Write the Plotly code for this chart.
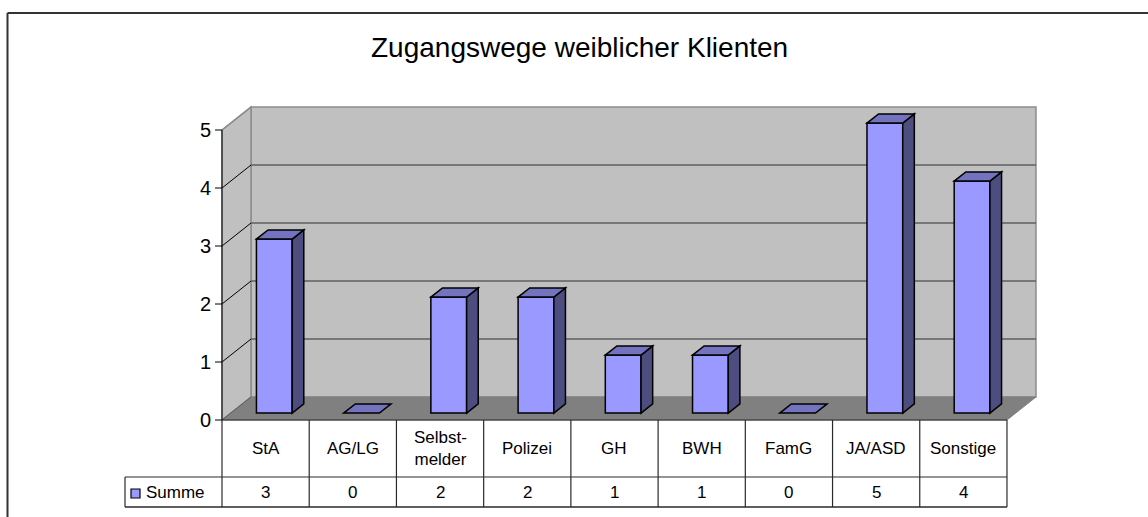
import plotly.graph_objects as go

# data
TITLE = "Zugangswege weiblicher Klienten"
CATEGORIES = ["StA", "AG/LG", "Selbst-<br>melder", "Polizei", "GH", "BWH", "FamG", "JA/ASD", "Sonstige"]
VALUES = [3, 0, 2, 2, 1, 1, 0, 5, 4]
SERIES_NAME = "Summe"
Y_TICKS = [0, 1, 2, 3, 4, 5]

# look
COLORS = {
    "front": "#9999FF",
    "side": "#4D4D80",
    "top": "#7373BF",
    "wall": "#C0C0C0",
    "floor": "#808080",
    "grid": "#5F5F5F",
    "edge": "#8C8C8C",
    "text": "#000000",
    "table": "#2A2A2A",
}
FONT = "Arial, Liberation Sans, sans-serif"

W, H = 1148, 517
PX_X0, COL_W = 222, 87.22      # pixel of category 0 left edge, width of one category
PX_Y0, UNIT_H = 420, 58        # pixel of value 0, height of one unit
DX, DY = 29 / COL_W, 23 / UNIT_H   # depth offset of back wall in data units
Z_FRONT, Z_BACK = 0.3, 0.7      # bar depth position
BAR_W = 0.41
HEAD_H = 57 / UNIT_H
ROW_H = 30 / UNIT_H
LEG_X = (125 - PX_X0) / COL_W

n = len(CATEGORIES)
ymax = max(Y_TICKS)


def path(pts):
    return "M " + " L ".join(f"{x:.4f},{y:.4f}" for x, y in pts) + " Z"


shapes = []


def poly(pts, fill, line_color, width=1.0):
    shapes.append(dict(type="path", xref="x", yref="y", path=path(pts),
                       fillcolor=fill, line=dict(color=line_color, width=width), layer="above"))


def seg(x0, y0, x1, y1, color, width=1.0):
    shapes.append(dict(type="line", xref="x", yref="y", x0=x0, y0=y0, x1=x1, y1=y1,
                       line=dict(color=color, width=width), layer="above"))


# walls and floor
poly([(DX, DY), (n + DX, DY), (n + DX, ymax + DY), (DX, ymax + DY)], COLORS["wall"], COLORS["edge"], 1.5)
poly([(0, 0), (DX, DY), (DX, ymax + DY), (0, ymax)], COLORS["wall"], COLORS["edge"], 1.5)
poly([(0, 0), (n, 0), (n + DX, DY), (DX, DY)], COLORS["floor"], COLORS["floor"], 1)

# gridlines
for k in Y_TICKS[1:-1]:
    seg(DX, k + DY, n + DX, k + DY, COLORS["grid"], 1.6)
    seg(0, k, DX, k + DY, "#000000", 1)
seg(0, ymax, DX, ymax + DY, COLORS["edge"], 1.5)
seg(0, 0, DX, DY, COLORS["grid"], 1)

# value axis
seg(0, 0, 0, ymax, "#000000", 1)
for k in Y_TICKS:
    seg(-7 / COL_W, k, 0, k, "#000000", 1)

# bars
for i, v in enumerate(VALUES):
    xl = i + 0.5 - BAR_W / 2 + Z_FRONT * DX
    xr = xl + BAR_W
    yb = Z_FRONT * DY
    ox, oy = (Z_BACK - Z_FRONT) * DX, (Z_BACK - Z_FRONT) * DY
    yt = v + yb
    if v > 0:
        poly([(xl, yb), (xr, yb), (xr, yt), (xl, yt)], COLORS["front"], "#000000", 1.5)
        poly([(xr, yb), (xr + ox, yb + oy), (xr + ox, yt + oy), (xr, yt)], COLORS["side"], "#000000", 1.5)
    poly([(xl, yt), (xr, yt), (xr + ox, yt + oy), (xl + ox, yt + oy)], COLORS["top"], "#000000", 1.5)

# data table
seg(0, 0, n, 0, COLORS["table"], 1.2)
seg(LEG_X, -HEAD_H, n, -HEAD_H, COLORS["table"], 1.2)
seg(LEG_X, -HEAD_H - ROW_H, n, -HEAD_H - ROW_H, COLORS["table"], 1.6)
seg(LEG_X, -HEAD_H, LEG_X, -HEAD_H - ROW_H, COLORS["table"], 1.2)
for i in range(n + 1):
    seg(i, 0, i, -HEAD_H - ROW_H, COLORS["table"], 1.2)

# legend key
shapes.append(dict(type="rect", xref="x", yref="y",
                   x0=LEG_X + 6 / COL_W, x1=LEG_X + 15 / COL_W,
                   y0=-HEAD_H - 21 / UNIT_H, y1=-HEAD_H - 12 / UNIT_H,
                   fillcolor=COLORS["front"], line=dict(color="#000000", width=1.2), layer="above"))

# chart border
shapes.append(dict(type="line", xref="paper", yref="paper", x0=7.5 / W, x1=1, y0=1 - 13 / H, y1=1 - 13 / H,
                   line=dict(color="#333333", width=2)))
shapes.append(dict(type="line", xref="paper", yref="paper", x0=7.5 / W, x1=7.5 / W, y0=0, y1=1 - 13 / H,
                   line=dict(color="#333333", width=2)))

annotations = []
for k in Y_TICKS:
    annotations.append(dict(x=-9 / COL_W, y=k, xref="x", yref="y", text=str(k), showarrow=False,
                            xanchor="right", yanchor="middle", font=dict(size=20, color=COLORS["text"])))
for i, (c, v) in enumerate(zip(CATEGORIES, VALUES)):
    annotations.append(dict(x=i + 0.5, y=-HEAD_H / 2, xref="x", yref="y", text=c, showarrow=False,
                            xanchor="center", yanchor="middle", font=dict(size=17, color=COLORS["text"])))
    annotations.append(dict(x=i + 0.5, y=-HEAD_H - ROW_H / 2, xref="x", yref="y", text=str(v), showarrow=False,
                            xanchor="center", yanchor="middle", font=dict(size=17, color=COLORS["text"])))
annotations.append(dict(x=LEG_X + 19 / COL_W, y=-HEAD_H - ROW_H / 2, xref="x", yref="y", text=SERIES_NAME,
                        showarrow=False, xanchor="left", yanchor="middle", font=dict(size=17, color=COLORS["text"])))
annotations.append(dict(x=579 / W, y=1 - 47 / H, xref="paper", yref="paper", text=TITLE, showarrow=False,
                        xanchor="center", yanchor="middle", font=dict(size=28, color=COLORS["text"])))

fig = go.Figure()
fig.add_trace(go.Scatter(x=[None], y=[None], showlegend=False, hoverinfo="skip"))
fig.update_layout(
    width=W, height=H,
    margin=dict(l=0, r=0, t=0, b=0),
    paper_bgcolor="white", plot_bgcolor="white",
    font=dict(family=FONT),
    showlegend=False,
    xaxis=dict(range=[-PX_X0 / COL_W, (W - PX_X0) / COL_W], visible=False, fixedrange=True),
    yaxis=dict(range=[-(H - PX_Y0) / UNIT_H, PX_Y0 / UNIT_H], visible=False, fixedrange=True),
    shapes=shapes,
    annotations=annotations,
)
fig.write_html("out.html", config={"displayModeBar": False},
               post_script="document.body.style.margin = '0px';")
